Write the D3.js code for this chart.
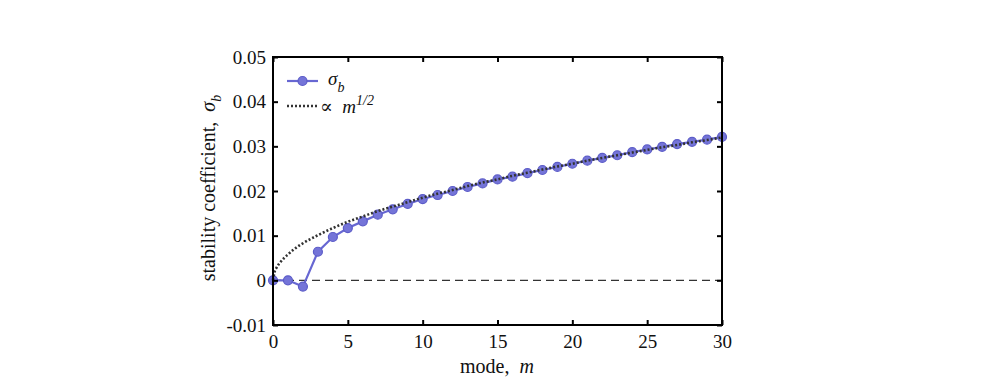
<!DOCTYPE html>
<html>
<head>
<meta charset="utf-8">
<script src="https://cdn.jsdelivr.net/npm/d3@7"></script>
<style>
  body { margin: 0; background: #fff; }
  text { font-family: "Liberation Serif", "DejaVu Serif", serif; fill: #111; }
</style>
</head>
<body>
<div id="chart"></div>
<script>
// sigma_b for each mode m
var modes = [0,1,2,3,4,5,6,7,8,9,10,11,12,13,14,15,16,17,18,19,20,21,22,23,24,25,26,27,28,29,30];
var sigmaB = [0, 0, -0.0014, 0.0064, 0.0097, 0.0117, 0.0132, 0.0147, 0.0159, 0.0171, 0.0182,
  0.0191, 0.0200, 0.0209, 0.0217, 0.0226, 0.0232, 0.0240, 0.0247, 0.0254, 0.0261,
  0.0268, 0.0274, 0.0280, 0.0287, 0.0293, 0.0299, 0.0305, 0.0310, 0.0315, 0.0321];

// dotted reference curve, ~ m^(1/2)
var fitM = [0, 0.1, 0.25, 0.5, 1, 1.5, 2, 3, 4, 5, 6, 7, 8, 9, 10, 11, 12, 13, 14, 15, 16, 17, 18, 19, 20,
  21, 22, 23, 24, 25, 26, 27, 28, 29, 30];
var fitVal = [0, 0.0018, 0.0029, 0.0041, 0.0058, 0.0072, 0.0083, 0.0101, 0.0117, 0.0131, 0.0143, 0.0155,
  0.0165, 0.0175, 0.0185, 0.0194, 0.0202, 0.0211, 0.0219, 0.0226, 0.0234, 0.0241, 0.0248,
  0.0255, 0.0261, 0.0268, 0.0274, 0.0280, 0.0286, 0.0292, 0.0298, 0.0303, 0.0309, 0.0314, 0.0320];

var xTicks = [0, 5, 10, 15, 20, 25, 30];
var yTicks = [-0.01, 0, 0.01, 0.02, 0.03, 0.04, 0.05];
var yTickLabels = ["-0.01", "0", "0.01", "0.02", "0.03", "0.04", "0.05"];

(function () {
  var W = 996, H = 383;
  var mLeft = 273, mRight = 722, mTop = 57, mBottom = 325;
  var blue = "#6767d2";
  var fs = "19px", fsLab = "20px";

  var svg = d3.select("#chart").append("svg").attr("width", W).attr("height", H);

  var x = d3.scaleLinear().domain([0, 30]).range([mLeft, mRight]);
  var y = d3.scaleLinear().domain([-0.01, 0.05]).range([mBottom, mTop]);

  // zero line
  svg.append("line")
    .attr("x1", x(0)).attr("x2", x(30)).attr("y1", y(0)).attr("y2", y(0))
    .attr("stroke", "#333").attr("stroke-width", 1.2).attr("stroke-dasharray", "8,5");

  var line = d3.line().x(function (d) { return x(d[0]); }).y(function (d) { return y(d[1]); });
  var curve = d3.line().curve(d3.curveMonotoneX)
    .x(function (d) { return x(d[0]); }).y(function (d) { return y(d[1]); });

  // data series
  var data = modes.map(function (m, i) { return [m, sigmaB[i]]; });
  svg.append("path").datum(data).attr("d", line)
    .attr("fill", "none").attr("stroke", blue).attr("stroke-width", 2.2);
  svg.selectAll("circle.pt").data(data).enter().append("circle")
    .attr("class", "pt")
    .attr("cx", function (d) { return x(d[0]); })
    .attr("cy", function (d) { return y(d[1]); })
    .attr("r", 4.5)
    .attr("fill", "#7474d8").attr("stroke", "#5c5cc8").attr("stroke-width", 1.2);

  // fit curve on top
  var fitData = fitM.map(function (m, i) { return [m, fitVal[i]]; });
  svg.append("path").datum(fitData).attr("d", curve)
    .attr("fill", "none").attr("stroke", "#333").attr("stroke-width", 2.6)
    .attr("stroke-dasharray", "2,2");

  // axes (ticks inside, all four sides)
  var ax = svg.append("g").attr("class", "axes");
  ax.append("g").attr("transform", "translate(0," + mBottom + ")")
    .call(d3.axisBottom(x).tickValues(xTicks).tickSize(-5).tickPadding(10).tickFormat(d3.format("d")));
  ax.append("g").attr("transform", "translate(0," + mTop + ")")
    .call(d3.axisTop(x).tickValues(xTicks).tickSize(-5).tickFormat(""));
  ax.append("g").attr("transform", "translate(" + mLeft + ",0)")
    .call(d3.axisLeft(y).tickValues(yTicks).tickSize(-5).tickPadding(7)
      .tickFormat(function (d, i) { return yTickLabels[i]; }));
  ax.append("g").attr("transform", "translate(" + mRight + ",0)")
    .call(d3.axisRight(y).tickValues(yTicks).tickSize(-5).tickFormat(""));
  ax.selectAll(".domain").remove();
  ax.selectAll(".tick line").attr("stroke", "#000").attr("stroke-width", 2);
  ax.selectAll(".tick text").style("font-size", fs)
    .style("font-family", "'Liberation Serif', serif").attr("fill", "#111");

  svg.append("rect")
    .attr("x", mLeft).attr("y", mTop).attr("width", mRight - mLeft).attr("height", mBottom - mTop)
    .attr("fill", "none").attr("stroke", "#000").attr("stroke-width", 2);

  // axis labels
  var xl = svg.append("text").attr("x", 497).attr("y", 373)
    .attr("text-anchor", "middle").style("font-size", fsLab);
  xl.append("tspan").text("mode,\u00a0\u00a0");
  xl.append("tspan").style("font-style", "italic").text("m");

  var yl = svg.append("text")
    .attr("transform", "translate(215,188) rotate(-90)")
    .attr("text-anchor", "middle").style("font-size", fsLab);
  yl.append("tspan").text("stability coefficient,\u00a0\u00a0");
  yl.append("tspan").style("font-style", "italic").text("σ");
  yl.append("tspan").style("font-style", "italic").style("font-size", "14px").attr("dy", 6).text("b");

  // legend
  var lg = svg.append("g");
  lg.append("line").attr("x1", 287).attr("x2", 318).attr("y1", 81).attr("y2", 81)
    .attr("stroke", blue).attr("stroke-width", 2.2);
  lg.append("circle").attr("cx", 302.5).attr("cy", 81).attr("r", 4.5)
    .attr("fill", "#7474d8").attr("stroke", "#5c5cc8").attr("stroke-width", 1.2);
  var t1 = lg.append("text").attr("x", 328).attr("y", 85).style("font-size", fs);
  t1.append("tspan").style("font-style", "italic").text("σ");
  t1.append("tspan").style("font-style", "italic").style("font-size", "14px").attr("dy", 7).text("b");

  lg.append("line").attr("x1", 287).attr("x2", 318).attr("y1", 106).attr("y2", 106)
    .attr("stroke", "#333").attr("stroke-width", 2.6).attr("stroke-dasharray", "2,2");
  var t2 = lg.append("text").attr("x", 320).attr("y", 113).style("font-size", fs);
  t2.append("tspan").text("∝\u00a0\u00a0");
  t2.append("tspan").style("font-style", "italic").text("m");
  t2.append("tspan").style("font-style", "italic").style("font-size", "14px").attr("dy", -8).text("1/2");
})();
</script>
</body>
</html>
